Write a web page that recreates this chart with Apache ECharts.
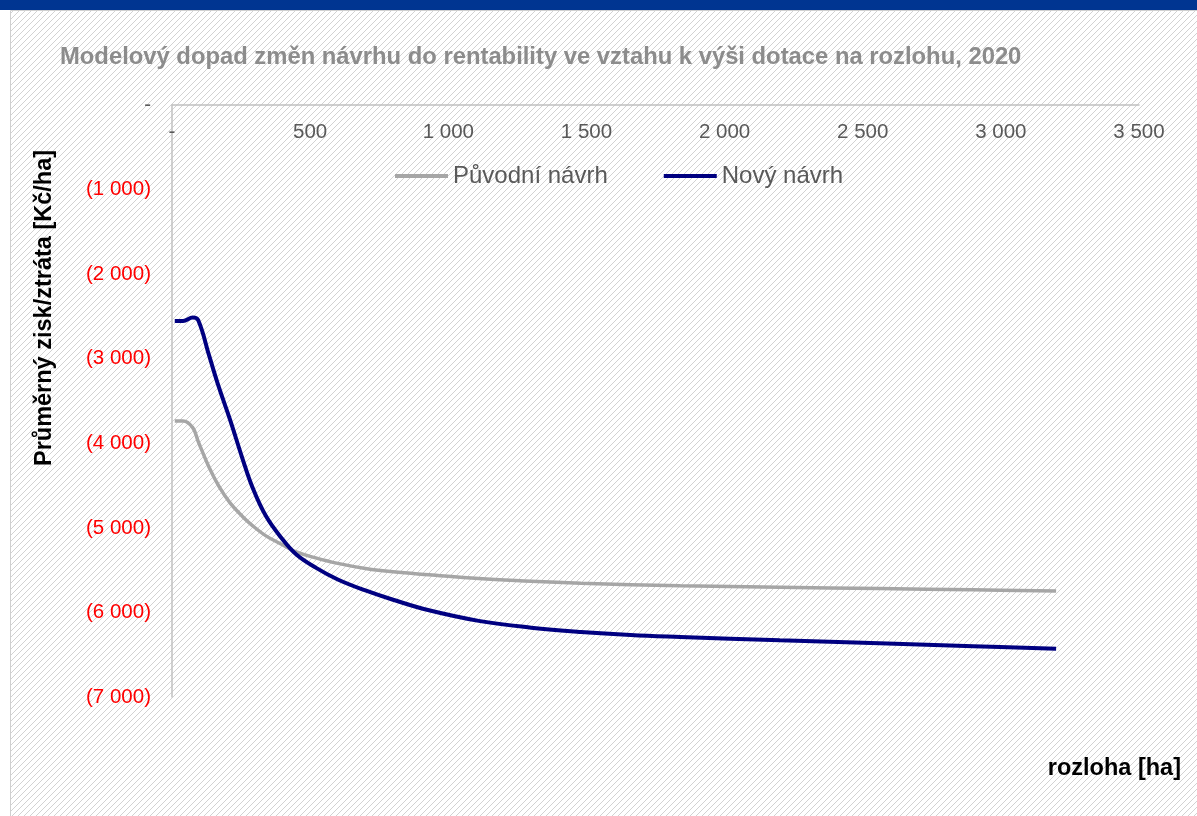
<!DOCTYPE html>
<html>
<head>
<meta charset="utf-8">
<script src="https://cdn.jsdelivr.net/npm/echarts@6/dist/echarts.min.js"></script>
<style>
  html, body { margin: 0; padding: 0; background: #fff; }
  #chart { width: 1197px; height: 816px; }
</style>
</head>
<body>
<div id="chart"></div>
<script>
// rozloha [ha]
const rozloha = [10, 40, 75, 95, 135, 170, 210, 255, 290, 340, 400, 450, 520, 600, 700,
  800, 930, 1110, 1300, 1480, 1660, 1840, 2200, 2560, 2900, 3200]

// Původní návrh [Kč/ha]
const puvodni = [-3736, -3736, -3815, -3980, -4290, -4510, -4705, -4865, -4970, -5095, -5200,
  -5285, -5355, -5420, -5480, -5520, -5555, -5600, -5630, -5655, -5672, -5685,
  -5703, -5718, -5732, -5746]

// Nový návrh [Kč/ha]
const novy = [-2554, -2554, -2514, -2545, -2970, -3340, -3720, -4180, -4510, -4860, -5135,
  -5315, -5470, -5610, -5740, -5850, -5975, -6100, -6180, -6231, -6267, -6290,
  -6330, -6365, -6400, -6430]

const xTicks = [0, 500, 1000, 1500, 2000, 2500, 3000, 3500]
const yTicks = [0, -1000, -2000, -3000, -4000, -5000, -6000, -7000]

const font = '"Liberation Sans", Arial, sans-serif'

// cislo s mezerou jako oddelovacem tisicu, nula jako pomlcka
const fmt = (v) => {
  if (v === 0) return '-'
  const s = Math.abs(v).toString().replace(/\B(?=(\d{3})+(?!\d))/g, ' ')
  return v < 0 ? '(' + s + ')' : s
}

// srafovane pozadi
const pat = document.createElement('canvas')
pat.width = 6
pat.height = 6
const ctx = pat.getContext('2d')
ctx.fillStyle = '#ffffff'
ctx.fillRect(0, 0, 6, 6)
ctx.strokeStyle = '#d2d2d2'
ctx.lineWidth = 1
ctx.beginPath()
ctx.moveTo(-1, 7); ctx.lineTo(7, -1)
ctx.moveTo(-4, 4); ctx.lineTo(4, -4)
ctx.moveTo(2, 10); ctx.lineTo(10, 2)
ctx.stroke()

const chart = echarts.init(document.getElementById('chart'))

chart.setOption({
  animation: false,
  textStyle: { fontFamily: font },
  title: {
    text: 'Modelový dopad změn návrhu do rentability ve vztahu k výši dotace na rozlohu, 2020',
    left: 55,
    top: 40,
    textStyle: { color: '#8c8c8c', fontSize: 23.8, fontWeight: 'bold', fontFamily: font }
  },
  legend: {
    left: 390,
    top: 159,
    icon: 'rect',
    itemWidth: 53,
    itemHeight: 4,
    itemGap: 56,
    textStyle: { color: '#595959', fontSize: 24, fontFamily: font },
    data: ['Původní návrh', 'Nový návrh']
  },
  graphic: [
    {
      type: 'rect',
      z: -10,
      shape: { x: 10.5, y: 10.5, width: 1190, height: 810 },
      style: { fill: { image: pat, repeat: 'repeat' }, stroke: '#d0d0d0', lineWidth: 1 }
    },
    {
      type: 'rect',
      z: -5,
      shape: { x: 0, y: 0, width: 1197, height: 10 },
      style: { fill: '#003591' }
    },
    {
      type: 'text',
      x: 45,
      y: 308,
      rotation: Math.PI / 2,
      style: {
        text: 'Průměrný zisk/ztráta [Kč/ha]',
        fill: '#000',
        font: 'bold 23.5px ' + font,
        align: 'center',
        verticalAlign: 'middle'
      }
    },
    {
      type: 'text',
      x: 1181,
      y: 769,
      style: {
        text: 'rozloha [ha]',
        fill: '#000',
        font: 'bold 23.5px ' + font,
        align: 'right',
        verticalAlign: 'middle'
      }
    }
  ],
  grid: {
    left: 172,
    right: 58,
    top: 105,
    bottom: 119,
    containLabel: false
  },
  xAxis: {
    type: 'value',
    position: 'top',
    min: xTicks[0],
    max: xTicks[xTicks.length - 1],
    interval: 500,
    axisLine: { show: true, onZero: false, lineStyle: { color: '#c0c0c0', width: 1.5 } },
    axisTick: { show: false },
    splitLine: { show: false },
    axisLabel: {
      inside: true,
      margin: 17,
      showMaxLabel: true,
      showMinLabel: true,
      color: '#595959',
      fontSize: 20.5,
      fontFamily: font,
      formatter: fmt
    }
  },
  yAxis: {
    type: 'value',
    min: yTicks[yTicks.length - 1],
    max: yTicks[0],
    interval: 1000,
    axisLine: { show: true, onZero: false, lineStyle: { color: '#c0c0c0', width: 1.5 } },
    axisTick: { show: false },
    splitLine: { show: false },
    axisLabel: {
      margin: 21,
      fontSize: 20.5,
      fontFamily: font,
      color: (v) => (Number(v) < 0 ? '#ff0000' : '#595959'),
      formatter: fmt
    }
  },
  series: [
    {
      name: 'Původní návrh',
      type: 'line',
      data: rozloha.map((x, i) => [x, puvodni[i]]),
      smooth: 0.4,
      symbol: 'none',
      color: '#a6a6a6',
      lineStyle: { color: '#a6a6a6', width: 3.5 }
    },
    {
      name: 'Nový návrh',
      type: 'line',
      data: rozloha.map((x, i) => [x, novy[i]]),
      smooth: 0.4,
      symbol: 'none',
      color: '#000080',
      lineStyle: { color: '#000080', width: 4 }
    }
  ]
})
</script>
</body>
</html>
